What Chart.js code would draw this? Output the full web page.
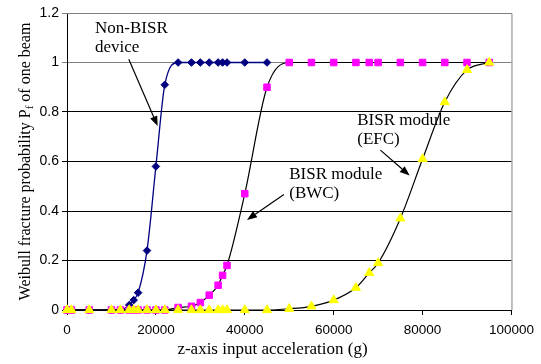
<!DOCTYPE html>
<html>
<head>
<meta charset="utf-8">
<script src="https://cdn.jsdelivr.net/npm/chart.js@4.4.1/dist/chart.umd.min.js"></script>
<style>
  html, body { margin: 0; padding: 0; background: #fff; }
  #wrap { width: 541px; height: 364px; }
</style>
</head>
<body>
<div id="wrap"><canvas id="chart" width="541" height="364"></canvas></div>
<script>
// tick values
const xTicks = [0, 20000, 40000, 60000, 80000, 100000];
const yTicks = [0, 0.2, 0.4, 0.6, 0.8, 1, 1.2];

// Non-BISR device
const nonBisrX = [0, 1000, 5000, 10000, 12000, 14000, 15000, 16000, 18000, 20000, 22000,
  25000, 28000, 30000, 32000, 34000, 35000, 36000, 40000, 45000];
const nonBisrY = [0, 0, 0, 0, 0, 0.02, 0.04, 0.07, 0.24, 0.58, 0.91,
  1, 1, 1, 1, 1, 1, 1, 1, 1];

// BISR module (BWC)
const bwcX = [0, 1000, 5000, 10000, 12000, 14000, 15000, 16000, 18000, 20000, 22000,
  25000, 28000, 30000, 32000, 34000, 35000, 36000, 40000, 45000,
  50000, 55000, 60000, 65000, 68000, 70000, 75000, 80000, 85000, 90000, 95000];
const bwcY = [0, 0, 0, 0, 0, 0, 0, 0, 0, 0, 0,
  0.01, 0.015, 0.03, 0.06, 0.10, 0.14, 0.18, 0.47, 0.90,
  1, 1, 1, 1, 1, 1, 1, 1, 1, 1, 1];

// BISR module (EFC)
const efcX = [0, 1000, 5000, 10000, 12000, 14000, 15000, 16000, 18000, 20000, 22000,
  25000, 28000, 30000, 32000, 34000, 35000, 36000, 40000, 45000,
  50000, 55000, 60000, 65000, 68000, 70000, 75000, 80000, 85000, 90000, 95000];
const efcY = [0, 0, 0, 0, 0, 0, 0, 0, 0, 0, 0,
  0, 0, 0, 0, 0, 0, 0, 0, 0,
  0.005, 0.015, 0.04, 0.09, 0.15, 0.19, 0.37, 0.61, 0.84, 0.97, 1];

const toPoints = (xs, ys) => xs.map((x, i) => ({ x, y: ys[i] }));

// callouts: text lines, text anchor (data units), arrow start/tip (data units)
const notes = [
  { lines: ['Non-BISR', 'device'], at: [6300, 1.119], from: [13900, 1.013], to: [20400, 0.743] },
  { lines: ['BISR module', '(BWC)'], at: [50000, 0.529], from: [48800, 0.467], to: [40500, 0.364] },
  { lines: ['BISR module', '(EFC)'], at: [65300, 0.747], from: [70500, 0.646], to: [77100, 0.543] }
];

const serif = "'Liberation Serif', 'Times New Roman', serif";
const sans = "'Liberation Sans', Arial, sans-serif";

function drawArrow(ctx, x1, y1, x2, y2) {
  const a = Math.atan2(y2 - y1, x2 - x1);
  const len = 10, half = 3.8;
  const bx = x2 - len * Math.cos(a), by = y2 - len * Math.sin(a);
  ctx.beginPath();
  ctx.moveTo(x1, y1);
  ctx.lineTo(bx, by);
  ctx.stroke();
  ctx.beginPath();
  ctx.moveTo(x2, y2);
  ctx.lineTo(bx + half * Math.sin(a), by - half * Math.cos(a));
  ctx.lineTo(bx - half * Math.sin(a), by + half * Math.cos(a));
  ctx.closePath();
  ctx.fill();
}

const decorations = {
  id: 'decorations',
  afterDraw(chart) {
    const { ctx, chartArea: area, scales: { x, y } } = chart;
    ctx.save();

    // grey frame top/right
    ctx.strokeStyle = '#808080';
    ctx.lineWidth = 1;
    ctx.beginPath();
    ctx.moveTo(area.left, area.top + 0.5);
    ctx.lineTo(area.right + 0.5, area.top + 0.5);
    ctx.lineTo(area.right + 0.5, area.bottom);
    ctx.stroke();

    // callouts
    ctx.fillStyle = '#000';
    ctx.strokeStyle = '#000';
    ctx.lineWidth = 1.2;
    ctx.font = '17px ' + serif;
    ctx.textAlign = 'left';
    ctx.textBaseline = 'alphabetic';
    notes.forEach((n) => {
      const tx = x.getPixelForValue(n.at[0]);
      const ty = y.getPixelForValue(n.at[1]);
      n.lines.forEach((line, i) => ctx.fillText(line, tx, ty + i * 19));
      drawArrow(ctx,
        x.getPixelForValue(n.from[0]), y.getPixelForValue(n.from[1]),
        x.getPixelForValue(n.to[0]), y.getPixelForValue(n.to[1]));
    });

    // x axis title
    ctx.font = '17px ' + serif;
    ctx.textAlign = 'center';
    ctx.fillText('z-axis input acceleration (g)', 272.5, 353.5);

    // y axis title with subscript
    ctx.translate(30, 161.5);
    ctx.rotate(-Math.PI / 2);
    const big = '16px ' + serif, small = '11px ' + serif;
    const parts = [
      { t: 'Weibull fracture probability P', f: big, dy: 0 },
      { t: 'f', f: small, dy: 3 },
      { t: ' of one beam', f: big, dy: 0 }
    ];
    let total = 0;
    parts.forEach((p) => { ctx.font = p.f; p.w = ctx.measureText(p.t).width; total += p.w; });
    let cx = -total / 2;
    ctx.textAlign = 'left';
    parts.forEach((p) => { ctx.font = p.f; ctx.fillText(p.t, cx, p.dy); cx += p.w; });

    ctx.restore();
  }
};

const gridColor = (c) => (c.tick && c.tick.value > 0.99 ? '#808080' : '#000');

new Chart(document.getElementById('chart'), {
  type: 'scatter',
  data: {
    datasets: [
      {
        label: 'Non-BISR device',
        data: toPoints(nonBisrX, nonBisrY),
        showLine: true,
        clip: false,
        borderColor: '#000080',
        borderWidth: 1.3,
        cubicInterpolationMode: 'monotone',
        pointStyle: 'rectRot',
        pointRadius: 3.8,
        pointBackgroundColor: '#000080',
        pointBorderColor: '#000080',
        pointBorderWidth: 1,
        order: 3
      },
      {
        label: 'BISR module (BWC)',
        data: toPoints(bwcX, bwcY),
        showLine: true,
        clip: false,
        borderColor: '#000',
        borderWidth: 1.2,
        cubicInterpolationMode: 'monotone',
        pointStyle: 'rect',
        pointRadius: 4.6,
        pointBackgroundColor: '#ff00ff',
        pointBorderColor: '#ff00ff',
        pointBorderWidth: 1,
        order: 2
      },
      {
        label: 'BISR module (EFC)',
        data: toPoints(efcX, efcY),
        showLine: true,
        clip: false,
        borderColor: '#000',
        borderWidth: 1.2,
        cubicInterpolationMode: 'monotone',
        pointStyle: 'triangle',
        pointRadius: 5.2,
        pointBackgroundColor: '#ffff00',
        pointBorderColor: '#ffff00',
        pointBorderWidth: 1,
        order: 1
      }
    ]
  },
  options: {
    responsive: false,
    animation: false,
    devicePixelRatio: 1,
    layout: { padding: { top: 13, right: 23, bottom: 0, left: 0 } },
    plugins: {
      legend: { display: false },
      tooltip: { enabled: false }
    },
    scales: {
      x: {
        type: 'linear',
        min: 0,
        max: 100000,
        afterBuildTicks: (s) => { s.ticks = xTicks.map((v) => ({ value: v })); },
        afterFit: (s) => { s.height = 54; },
        ticks: {
          color: '#000',
          font: { family: sans, size: 13.5 },
          padding: 7,
          maxRotation: 0,
          callback: (v) => String(v)
        },
        grid: { drawOnChartArea: false, color: '#000', tickLength: 5 },
        border: { color: '#000', width: 1 }
      },
      y: {
        min: 0,
        max: 1.2,
        afterBuildTicks: (s) => { s.ticks = yTicks.map((v) => ({ value: v })); },
        afterFit: (s) => { s.width = 67; },
        ticks: {
          color: '#000',
          font: { family: sans, size: 14 },
          padding: 3,
          callback: (v) => String(Math.round(v * 10) / 10)
        },
        grid: { color: gridColor, tickLength: 5 },
        border: { color: '#000', width: 1 }
      }
    }
  },
  plugins: [decorations]
});
</script>
</body>
</html>
